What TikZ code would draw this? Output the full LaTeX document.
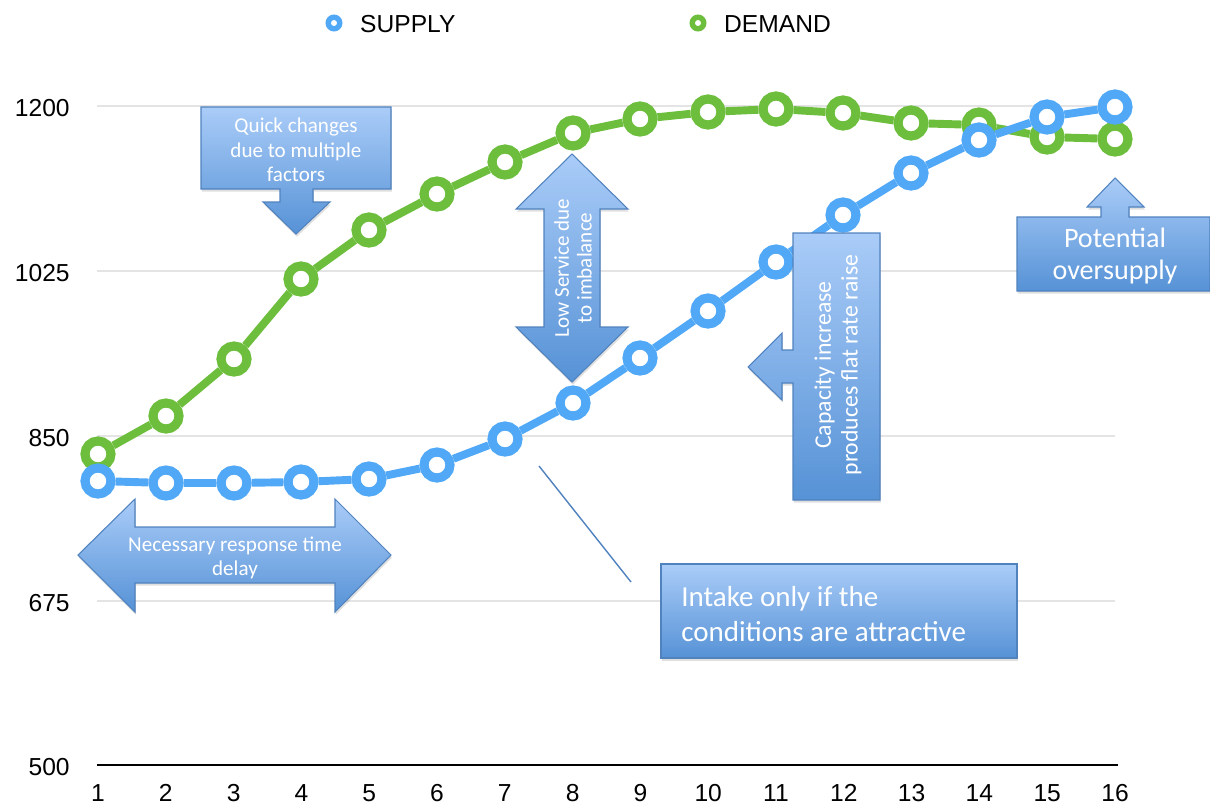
\documentclass[tikz,border=0pt]{standalone}
\usepackage{fontspec}
\setmainfont{Liberation Sans}
\newfontfamily\calibri{Carlito}
\usetikzlibrary{shadows}

\definecolor{supplyblue}{RGB}{80,168,247}
\definecolor{demandgreen}{RGB}{109,190,61}
\definecolor{boxtop}{RGB}{170,204,248}
\definecolor{boxbottom}{RGB}{86,146,214}
\definecolor{boxedge}{RGB}{80,130,190}
\definecolor{gridgray}{RGB}{228,228,228}

\tikzstyle{callout}=[draw=boxedge, line width=0.6pt, top color=boxtop, bottom color=boxbottom, drop shadow={opacity=0.25, shadow xshift=0.5pt, shadow yshift=-1.5pt}]
\tikzstyle{smark}=[circle, draw=supplyblue, fill=white, line width=5.2pt, minimum size=0.52cm, inner sep=0pt]
\tikzstyle{dmark}=[circle, draw=demandgreen, fill=white, line width=5.2pt, minimum size=0.52cm, inner sep=0pt]
\tikzstyle{sline}=[supplyblue, line width=4.5pt]
\tikzstyle{dline}=[demandgreen, line width=4.5pt]
\tikzstyle{gridline}=[gridgray, line width=1.5pt]
\tikzstyle{ylab}=[anchor=east, inner sep=0pt, font=\fontsize{14}{16}\selectfont]
\tikzstyle{xlab}=[inner sep=0pt, font=\fontsize{14}{16}\selectfont]
\tikzstyle{note}=[text=white, align=center, inner sep=0pt]

\begin{document}
\begin{tikzpicture}[x=0.02cm, y=-0.02cm]
\useasboundingbox (0,0) rectangle (1210,805);

% grid and axis
\draw [gridline] (97,106) -- (1115,106);
\draw [gridline] (97,271) -- (1115,271);
\draw [gridline] (97,436) -- (1115,436);
\draw [gridline] (97,601) -- (1115,601);
\draw [black, line width=1.4pt] (97,765) -- (1118,765);

\node [ylab] (y1200) at (70,108) {1200};
\node [ylab] (y1025) at (70,273) {1025};
\node [ylab] (y850) at (70,438) {850};
\node [ylab] (y675) at (70,603) {675};
\node [ylab] (y500) at (70,767) {500};
\foreach \i in {1,...,16}
  \node [xlab] (x\i) at ({98+(\i-1)*67.8},793) {\i};

% legend
\node [circle, draw=supplyblue, line width=3.1pt, minimum size=0.23cm, inner sep=0pt] (skey) at (334,23) {};
\node [anchor=west, font=\fontsize{14}{16}\selectfont] (stext) at (354,24) {SUPPLY};
\node [circle, draw=demandgreen, line width=3.1pt, minimum size=0.23cm, inner sep=0pt] (dkey) at (698,23) {};
\node [anchor=west, font=\fontsize{14}{16}\selectfont] (dtext) at (718,24) {DEMAND};

% demand
\node [dmark] (d1) at (98,454) {};
\node [dmark] (d2) at (166,416) {};
\node [dmark] (d3) at (234,359) {};
\node [dmark] (d4) at (301,279) {};
\node [dmark] (d5) at (369,230) {};
\node [dmark] (d6) at (437,194) {};
\node [dmark] (d7) at (505,162) {};
\node [dmark] (d8) at (573,133) {};
\node [dmark] (d9) at (640,119) {};
\node [dmark] (d10) at (708,112) {};
\node [dmark] (d11) at (776,109) {};
\node [dmark] (d12) at (843,113) {};
\node [dmark] (d13) at (911,123) {};
\node [dmark] (d14) at (979,125) {};
\node [dmark] (d15) at (1047,137) {};
\node [dmark] (d16) at (1115,139) {};
\draw [dline] (d1) -- (d2) -- (d3) -- (d4) -- (d5) -- (d6) -- (d7) -- (d8) -- (d9) -- (d10) -- (d11) -- (d12) -- (d13) -- (d14) -- (d15) -- (d16);

% supply
\node [smark] (s1) at (98,481) {};
\node [smark] (s2) at (166,483) {};
\node [smark] (s3) at (234,483) {};
\node [smark] (s4) at (301,482) {};
\node [smark] (s5) at (369,479) {};
\node [smark] (s6) at (437,465) {};
\node [smark] (s7) at (505,439) {};
\node [smark] (s8) at (573,403) {};
\node [smark] (s9) at (640,358) {};
\node [smark] (s10) at (708,311) {};
\node [smark] (s11) at (776,262) {};
\node [smark] (s12) at (843,215) {};
\node [smark] (s13) at (911,173) {};
\node [smark] (s14) at (979,140) {};
\node [smark] (s15) at (1047,117) {};
\node [smark] (s16) at (1115,107) {};
\draw [sline] (s1) -- (s2) -- (s3) -- (s4) -- (s5) -- (s6) -- (s7) -- (s8) -- (s9) -- (s10) -- (s11) -- (s12) -- (s13) -- (s14) -- (s15) -- (s16);

% callouts
\path [callout] (201,107) -- (391,107) -- (391,189) -- (313,189) -- (313,202) -- (330,202) -- (296,234) -- (263,202) -- (280,202) -- (280,189) -- (201,189) -- cycle;
\node [note, font=\calibri\fontsize{12}{13.9}\selectfont] (quick) at (296,150) {Quick changes\\due to multiple\\factors};

\path [callout] (572,154) -- (628,209) -- (600,209) -- (600,327) -- (628,327) -- (572,382) -- (516,327) -- (544,327) -- (544,209) -- (516,209) -- cycle;
\node [note, rotate=90, font=\calibri\fontsize{12}{13}\selectfont] (lowserv) at (573,268) {Low Service due\\to imbalance};

\path [callout] (793,233) -- (880,233) -- (880,500) -- (793,500) -- (793,383) -- (782,383) -- (782,400) -- (748,367) -- (782,333) -- (782,350) -- (793,350) -- cycle;
\node [note, rotate=90, font=\calibri\fontsize{13.5}{15.3}\selectfont] (capacity) at (838,365) {Capacity increase\\produces flat rate raise};

\path [callout] (1017,217) -- (1101,217) -- (1101,207) -- (1087,207) -- (1115,178) -- (1144,207) -- (1129,207) -- (1129,217) -- (1210,217) -- (1210,291) -- (1017,291) -- cycle;
\node [note, font=\calibri\fontsize{16}{18.7}\selectfont] (oversupply) at (1115,256) {Potential\\oversupply};

\path [callout] (78,555) -- (135,499) -- (135,527) -- (335,527) -- (335,499) -- (391,555) -- (335,612) -- (335,583) -- (135,583) -- (135,612) -- cycle;
\node [note, font=\calibri\fontsize{12}{13.6}\selectfont] (delay) at (235,558) {Necessary response time\\delay};

\path [callout] (661,564) rectangle (1017,658);
\node [note, align=left, anchor=west, font=\calibri\fontsize{16.5}{20.2}\selectfont] (intake) at (681,614) {Intake only if the\\conditions are attractive};

\coordinate (lead1) at (539,466);
\coordinate (lead2) at (631,582);
\draw [boxedge, line width=0.8pt] (lead1) -- (lead2);
\end{tikzpicture}
\end{document}
